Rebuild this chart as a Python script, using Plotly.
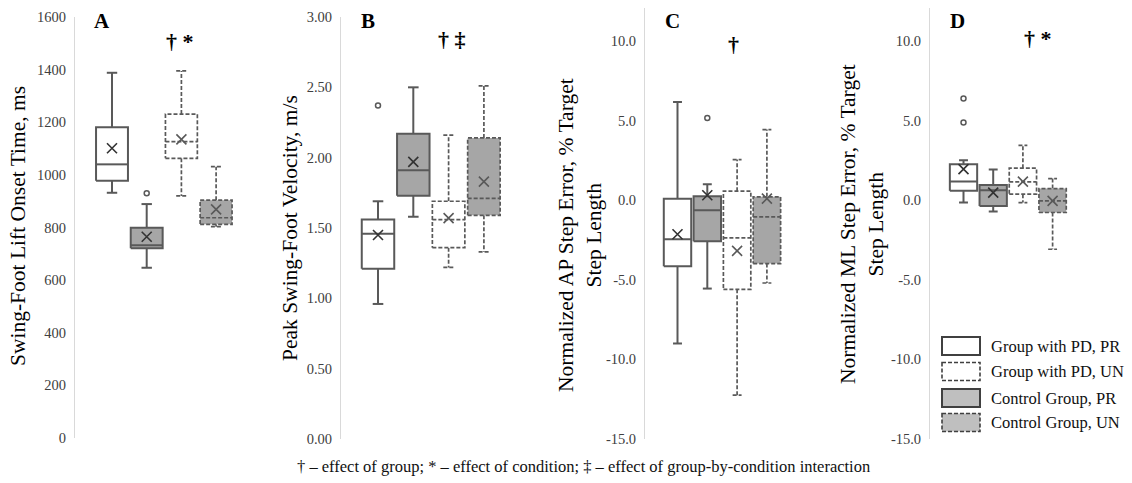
import plotly.graph_objects as go

# ---------------- data ----------------
SERIES = ["Group with PD, PR", "Control Group, PR", "Group with PD, UN", "Control Group, UN"]
LEGEND_ORDER = ["Group with PD, PR", "Group with PD, UN", "Control Group, PR", "Control Group, UN"]

# Panel A: Swing-foot lift onset time (ms)
A_lower = [932, 647, 920, 803]
A_q1 = [978, 721, 1063, 812]
A_median = [1040, 733, 1126, 837]
A_q3 = [1181, 799, 1231, 904]
A_upper = [1388, 889, 1395, 1031]
A_mean = [1101, 765, 1135, 869]
A_outliers = [[], [930], [], []]
A_ticks = [0, 200, 400, 600, 800, 1000, 1200, 1400, 1600]
A_ticktext = ["0", "200", "400", "600", "800", "1000", "1200", "1400", "1600"]

# Panel B: Peak swing-foot velocity (m/s)
B_lower = [0.96, 1.58, 1.22, 1.33]
B_q1 = [1.21, 1.73, 1.36, 1.59]
B_median = [1.46, 1.91, 1.56, 1.71]
B_q3 = [1.56, 2.17, 1.69, 2.14]
B_upper = [1.69, 2.50, 2.16, 2.51]
B_mean = [1.45, 1.97, 1.57, 1.83]
B_outliers = [[2.37], [], [], []]
B_ticks = [0.0, 0.5, 1.0, 1.5, 2.0, 2.5, 3.0]
B_ticktext = ["0.00", "0.50", "1.00", "1.50", "2.00", "2.50", "3.00"]

# Panel C: Normalized AP step error (% target step length)
C_lower = [-9.0, -5.55, -12.25, -5.2]
C_q1 = [-4.15, -2.58, -5.6, -3.98]
C_median = [-2.45, -0.63, -2.37, -1.05]
C_q3 = [0.1, 0.25, 0.57, 0.21]
C_upper = [6.17, 1.0, 2.55, 4.44]
C_mean = [-2.14, 0.31, -3.18, 0.1]
C_outliers = [[], [5.17], [], []]

# Panel D: Normalized ML step error (% target step length)
D_lower = [-0.15, -0.71, -0.15, -3.08]
D_q1 = [0.59, -0.36, 0.38, -0.77]
D_median = [1.17, 0.63, 1.15, -0.04]
D_q3 = [2.26, 0.96, 2.01, 0.73]
D_upper = [2.51, 1.93, 3.45, 1.36]
D_mean = [1.95, 0.48, 1.17, -0.04]
D_outliers = [[6.39, 4.88], [], [], []]

CD_ticks = [-15, -10, -5, 0, 5, 10]
CD_ticktext = ["-15.0", "-10.0", "-5.0", "0.0", "5.0", "10.0"]

# ---------------- layout / style ----------------
W, H = 1132, 483
SERIF = "Liberation Serif, Times New Roman, serif"
EDGE = "#595959"
STYLE = {
    "Group with PD, PR": dict(fill="#ffffff", dash="solid", width=2.0, leg_fill="#ffffff"),
    "Control Group, PR": dict(fill="#a6a6a6", dash="solid", width=2.0, leg_fill="#bfbfbf"),
    "Group with PD, UN": dict(fill="#ffffff", dash="4px,2px", width=1.7, leg_fill="#ffffff"),
    "Control Group, UN": dict(fill="#a6a6a6", dash="4px,2px", width=1.7, leg_fill="#bfbfbf"),
}

panels = [
    dict(lo=A_lower, q1=A_q1, med=A_median, q3=A_q3, up=A_upper, mean=A_mean, out=A_outliers,
         yr=[0, 1600], ypix=(17, 438), x0=75, c0=112, sp=34.7, x1=262,
         tv=A_ticks, tt=A_ticktext, letter="A", sig="† *", sigpos=(180, 41),
         title="Swing-Foot Lift Onset Time, ms", tpos=(18, 226)),
    dict(lo=B_lower, q1=B_q1, med=B_median, q3=B_q3, up=B_upper, mean=B_mean, out=B_outliers,
         yr=[0, 3.0], ypix=(17, 439), x0=341, c0=378, sp=35.3, x1=528,
         tv=B_ticks, tt=B_ticktext, letter="B", sig="† ‡", sigpos=(452, 40),
         title="Peak Swing-Foot Velocity, m/s", tpos=(290, 228)),
    dict(lo=C_lower, q1=C_q1, med=C_median, q3=C_q3, up=C_upper, mean=C_mean, out=C_outliers,
         yr=[-15, 12.1], ypix=(7.6, 439), x0=645, c0=677.5, sp=29.8, x1=805,
         tv=CD_ticks, tt=CD_ticktext, letter="C", sig="†", sigpos=(733, 44),
         title="Normalized AP Step Error, % Target<br>Step Length", tpos=(580, 235)),
    dict(lo=D_lower, q1=D_q1, med=D_median, q3=D_q3, up=D_upper, mean=D_mean, out=D_outliers,
         yr=[-15, 12.1], ypix=(7.6, 439), x0=930, c0=963.5, sp=29.7, x1=1120,
         tv=CD_ticks, tt=CD_ticktext, letter="D", sig="† *", sigpos=(1038, 38),
         title="Normalized ML Step Error, % Target<br>Step Length", tpos=(862, 224)),
]

HW = 0.46   # box half-width (category units)
CW = 0.15   # whisker cap half-width

fig = go.Figure()
layout_axes = {}
annotations = []

for p_i, p in enumerate(panels):
    n = p_i + 1
    xa = "x" if n == 1 else f"x{n}"
    ya = "y" if n == 1 else f"y{n}"
    xkey = "xaxis" if n == 1 else f"xaxis{n}"
    ykey = "yaxis" if n == 1 else f"yaxis{n}"

    xr = [-(p["c0"] - p["x0"]) / p["sp"], (p["x1"] - p["c0"]) / p["sp"]]
    layout_axes[xkey] = dict(domain=[p["x0"] / W, p["x1"] / W], range=xr, visible=False,
                             anchor=ya, fixedrange=True, automargin=False)
    layout_axes[ykey] = dict(domain=[1 - p["ypix"][1] / H, 1 - p["ypix"][0] / H], range=p["yr"],
                             anchor=xa, showline=True, linecolor="#d9d9d9", linewidth=1,
                             showgrid=False, zeroline=False, ticks="outside", ticklen=5,
                             tickcolor="rgba(0,0,0,0)", tickmode="array", tickvals=p["tv"],
                             ticktext=p["tt"], tickfont=dict(family=SERIF, size=14.5, color="#404040"),
                             fixedrange=True, automargin=False)

    for i, name in enumerate(SERIES):
        st = STYLE[name]
        c = i
        lo, q1, med, q3, up = p["lo"][i], p["q1"][i], p["med"][i], p["q3"][i], p["up"][i]
        line = dict(color=EDGE, width=st["width"], dash=st["dash"])
        # whiskers + caps
        fig.add_trace(go.Scatter(
            x=[c, c, None, c, c, None, c - CW, c + CW, None, c - CW, c + CW],
            y=[q3, up, None, q1, lo, None, up, up, None, lo, lo],
            mode="lines", line=line, xaxis=xa, yaxis=ya, showlegend=False, hoverinfo="skip"))
        # box
        fig.add_trace(go.Scatter(
            x=[c - HW, c + HW, c + HW, c - HW, c - HW], y=[q1, q1, q3, q3, q1],
            mode="lines", fill="toself", fillcolor=st["fill"], line=line,
            xaxis=xa, yaxis=ya, showlegend=False, name=name))
        # median
        fig.add_trace(go.Scatter(
            x=[c - HW, c + HW], y=[med, med], mode="lines", line=line,
            xaxis=xa, yaxis=ya, showlegend=False, hoverinfo="skip"))
        # mean
        mcol = "#333333" if st["dash"] == "solid" else "#595959"
        fig.add_trace(go.Scatter(
            x=[c], y=[p["mean"][i]], mode="markers",
            marker=dict(symbol="x-thin-open", size=10, color=mcol,
                        line=dict(width=1.6, color=mcol)),
            xaxis=xa, yaxis=ya, showlegend=False, name=name + " mean"))
        # outliers
        if p["out"][i]:
            fig.add_trace(go.Scatter(
                x=[c] * len(p["out"][i]), y=p["out"][i], mode="markers",
                marker=dict(symbol="circle-open", size=5, color=EDGE,
                            line=dict(width=1.5, color=EDGE)),
                xaxis=xa, yaxis=ya, showlegend=False, name=name + " outlier"))

    # panel letter
    annotations.append(dict(text=f"<b>{p['letter']}</b>", x=(p["x0"] + 27) / W, y=1 - 21 / H,
                            xref="paper", yref="paper", showarrow=False, xanchor="center",
                            yanchor="middle", font=dict(family=SERIF, size=21, color="#000")))
    # significance marks
    annotations.append(dict(text=f"<b>{p['sig']}</b>", x=p["sigpos"][0] / W, y=1 - p["sigpos"][1] / H,
                            xref="paper", yref="paper", showarrow=False, xanchor="center",
                            yanchor="middle", font=dict(family=SERIF, size=22, color="#000")))
    # axis title
    annotations.append(dict(text=p["title"], x=p["tpos"][0] / W, y=1 - p["tpos"][1] / H,
                            xref="paper", yref="paper", showarrow=False, textangle=-90,
                            xanchor="center", yanchor="middle",
                            font=dict(family=SERIF, size=21.5, color="#000")))

# footer
annotations.append(dict(
    text="† – effect of group; * – effect of condition; ‡ – effect of group-by-condition interaction",
    x=583 / W, y=1 - 466 / H, xref="paper", yref="paper", showarrow=False,
    xanchor="center", yanchor="middle", font=dict(family=SERIF, size=16.5, color="#111")))

# manual legend (box swatches)
shapes = []
row_y = [346, 371.5, 398, 422.5]
for name, yc in zip(LEGEND_ORDER, row_y):
    st = STYLE[name]
    shapes.append(dict(type="rect", xref="paper", yref="paper",
                       x0=942 / W, x1=980 / W, y0=1 - (yc - 9) / H, y1=1 - (yc + 9) / H,
                       fillcolor=st["leg_fill"],
                       line=dict(color="#404040", width=2 if st["dash"] == "solid" else 1.6,
                                 dash=st["dash"])))
    annotations.append(dict(text=name, x=989 / W, y=1 - yc / H, xref="paper", yref="paper",
                            showarrow=False, xanchor="left", yanchor="middle",
                            font=dict(family=SERIF, size=16.5, color="#111")))

fig.update_layout(
    width=W, height=H, margin=dict(l=0, r=0, t=0, b=0, pad=0, autoexpand=False),
    paper_bgcolor="white", plot_bgcolor="white",
    showlegend=False, annotations=annotations, shapes=shapes,
    **layout_axes)

fig.write_html("out.html", config={"displayModeBar": False},
               post_script="document.body.style.margin='0';document.body.style.overflow='hidden';")
